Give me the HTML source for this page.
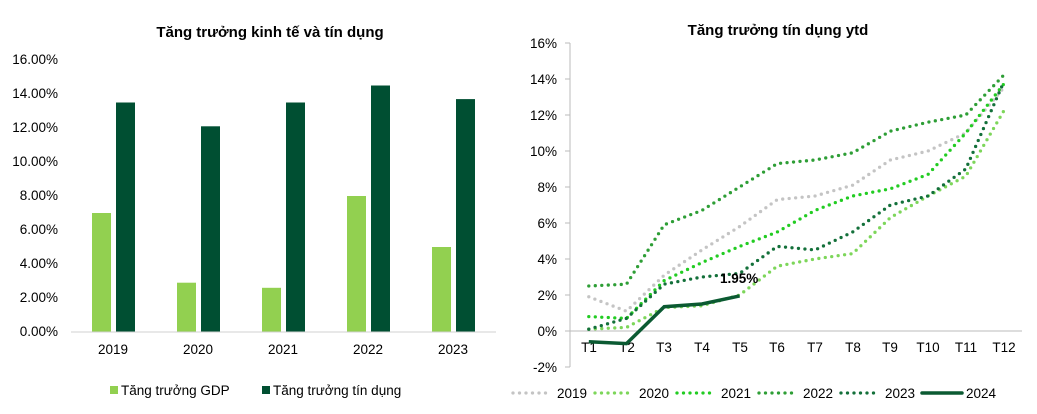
<!DOCTYPE html>
<html><head><meta charset="utf-8"><style>
body{margin:0;background:#fff;}
svg text{font-family:"Liberation Sans",sans-serif;fill:#000;}
</style></head><body>
<svg width="1037" height="409" viewBox="0 0 1037 409" xmlns="http://www.w3.org/2000/svg">
<!-- Left chart -->
<text x="270" y="37" font-size="15" font-weight="bold" text-anchor="middle">Tăng trưởng kinh tế và tín dụng</text>
<g font-size="13.5" text-anchor="end">
<text x="58" y="336">0.00%</text><text x="58" y="302">2.00%</text><text x="58" y="268">4.00%</text><text x="58" y="234">6.00%</text><text x="58" y="200">8.00%</text><text x="58" y="166">10.00%</text><text x="58" y="132">12.00%</text><text x="58" y="98">14.00%</text><text x="58" y="64">16.00%</text>
</g>
<g fill="#92d050">
<rect x="92" y="213" width="19" height="119"/><rect x="177" y="282.7" width="19" height="49.3"/><rect x="262" y="287.8" width="19" height="44.2"/><rect x="347" y="196" width="19" height="136"/><rect x="432" y="247" width="19" height="85"/>
</g>
<g fill="#004f32">
<rect x="116" y="102.5" width="19" height="229.5"/><rect x="201" y="126.3" width="19" height="205.7"/><rect x="286" y="102.5" width="19" height="229.5"/><rect x="371" y="85.5" width="19" height="246.5"/><rect x="456" y="99.1" width="19" height="232.9"/>
</g>
<line x1="71" y1="332" x2="496" y2="332" stroke="#d0d0d0" stroke-width="1"/>
<g font-size="13.5" text-anchor="middle">
<text x="113" y="354">2019</text><text x="198" y="354">2020</text><text x="283" y="354">2021</text><text x="368" y="354">2022</text><text x="453" y="354">2023</text>
</g>
<rect x="110" y="386" width="8" height="8" fill="#92d050"/>
<text x="121" y="395" font-size="13.5">Tăng trưởng GDP</text>
<rect x="262" y="386" width="8" height="8" fill="#004f32"/>
<text x="273" y="395" font-size="13.5">Tăng trưởng tín dụng</text>

<!-- Right chart -->
<text x="778" y="35" font-size="15" font-weight="bold" text-anchor="middle">Tăng trưởng tín dụng ytd</text>
<g font-size="13.5" text-anchor="end">
<text x="557" y="48">16%</text><text x="557" y="84">14%</text><text x="557" y="120">12%</text><text x="557" y="156">10%</text><text x="557" y="192">8%</text><text x="557" y="228">6%</text><text x="557" y="264">4%</text><text x="557" y="300">2%</text><text x="557" y="336">0%</text><text x="557" y="372">-2%</text>
</g>
<line x1="570" y1="43" x2="570" y2="367" stroke="#bbb"/>
<line x1="565" y1="331" x2="1022" y2="331" stroke="#bbb"/>
<g stroke="#bbb">
<line x1="565" y1="43" x2="570" y2="43"/><line x1="565" y1="79" x2="570" y2="79"/><line x1="565" y1="115" x2="570" y2="115"/><line x1="565" y1="151" x2="570" y2="151"/><line x1="565" y1="187" x2="570" y2="187"/><line x1="565" y1="223" x2="570" y2="223"/><line x1="565" y1="259" x2="570" y2="259"/><line x1="565" y1="295" x2="570" y2="295"/><line x1="565" y1="367" x2="570" y2="367"/>
</g>
<g font-size="13.5" text-anchor="middle">
<text x="589" y="352">T1</text><text x="627" y="352">T2</text><text x="664" y="352">T3</text><text x="702" y="352">T4</text><text x="740" y="352">T5</text><text x="777" y="352">T6</text><text x="815" y="352">T7</text><text x="853" y="352">T8</text><text x="890" y="352">T9</text><text x="928" y="352">T10</text><text x="966" y="352">T11</text><text x="1004" y="352">T12</text>
</g>
<g fill="none" stroke-width="3.3" stroke-linecap="round" stroke-dasharray="0 6.5">
<polyline stroke="#c4c4c4" points="588.8,296.8 626.5,311.2 664.2,275.2 701.9,250 739.6,226.6 777.3,199.6 815,196 852.7,185.2 890.4,160 928.1,151 965.8,133 1003.5,88"/>
<polyline stroke="#7dd65a" points="588.8,329.2 626.5,327.4 664.2,307.6 701.9,305.8 739.6,295 777.3,266.2 815,259 852.7,253.6 890.4,217.6 928.1,196 965.8,176.2 1003.5,111.4"/>
<polyline stroke="#22cc22" points="588.8,316.6 626.5,318.4 664.2,280.6 701.9,262.6 739.6,246.4 777.3,232 815,210.4 852.7,196 890.4,188.8 928.1,174.4 965.8,133 1003.5,84.4"/>
<polyline stroke="#2e9e36" points="588.8,286 626.5,284.2 664.2,224.8 701.9,210.4 739.6,187 777.3,163.6 815,160 852.7,152.8 890.4,131.2 928.1,122.2 965.8,115 1003.5,75.4"/>
<polyline stroke="#13703a" points="588.8,329.2 626.5,318.4 664.2,284.2 701.9,277 739.6,273.4 777.3,246.4 815,250 852.7,232 890.4,205 928.1,196 965.8,169 1003.5,82.6"/>
</g>
<polyline fill="none" stroke="#0b5a32" stroke-width="3.5" points="588.8,341.8 626.5,343.6 664.2,306.7 701.9,304 739.6,295.9"/>
<text x="720" y="283" font-size="13.5" font-weight="bold">1.95%</text>
<!-- legend -->
<g stroke-width="3.3" stroke-linecap="round" stroke-dasharray="0 6.5">
<line x1="513" y1="393" x2="552" y2="393" stroke="#c4c4c4"/>
<line x1="595" y1="393" x2="634" y2="393" stroke="#7dd65a"/>
<line x1="677" y1="393" x2="716" y2="393" stroke="#22cc22"/>
<line x1="759" y1="393" x2="798" y2="393" stroke="#2e9e36"/>
<line x1="841" y1="393" x2="880" y2="393" stroke="#13703a"/>
</g>
<line x1="922" y1="393" x2="962" y2="393" stroke="#0b5a32" stroke-width="3.5" stroke-linecap="round"/>
<g font-size="13.5">
<text x="557" y="398">2019</text><text x="639" y="398">2020</text><text x="721" y="398">2021</text><text x="803" y="398">2022</text><text x="885" y="398">2023</text><text x="966" y="398">2024</text>
</g>
</svg>
</body></html>
